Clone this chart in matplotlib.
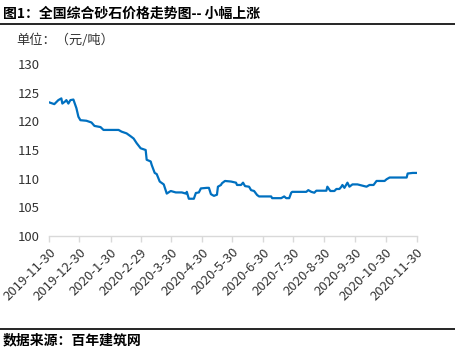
import matplotlib
matplotlib.use("Agg")
import matplotlib.pyplot as plt
import matplotlib.dates as mdates
import numpy as np
import pandas as pd

plt.rcParams['font.family'] = ['Noto Sans CJK SC', 'DejaVu Sans']

title = "图1：全国综合砂石价格走势图-- 小幅上涨"
unit_label = "单位：（元/吨）"
source = "数据来源：百年建筑网"

start_date = "2019-11-30"
day_offsets = [0, 5, 9, 12, 13, 16, 17, 19, 21, 24, 27, 29, 31, 37, 42, 45, 51, 54, 69, 72,
               77, 81, 84, 87, 91, 96, 97, 101, 102, 105, 107, 110, 114, 117, 121, 126, 132,
               136, 137, 139, 144, 146, 149, 151, 157, 159, 161, 164, 167, 168, 171, 172, 175,
               181, 186, 187, 191, 193, 195, 199, 201, 204, 207, 209, 221, 222, 231, 234, 236,
               239, 241, 242, 256, 258, 261, 264, 266, 276, 277, 280, 284, 286, 289, 291, 292,
               294, 297, 299, 302, 307, 316, 319, 323, 326, 334, 336, 339, 356, 357, 362, 366]
prices = [123.3, 123.0, 123.7, 124.0, 123.1, 123.5, 123.7, 123.1, 123.7, 123.8, 122.3, 120.8,
          120.2, 120.1, 119.8, 119.2, 119.0, 118.5, 118.5, 118.2, 117.9, 117.4, 117.0, 116.2,
          115.3, 115.0, 113.3, 113.0, 112.4, 111.0, 110.8, 109.5, 109.0, 107.4, 107.85, 107.6,
          107.6, 107.4, 107.7, 106.5, 106.5, 107.5, 107.6, 108.3, 108.4, 108.4, 107.3, 107.0,
          107.2, 108.6, 108.9, 109.2, 109.6, 109.5, 109.3, 108.9, 108.9, 109.3, 108.7, 108.6,
          108.0, 107.85, 107.15, 106.9, 106.9, 106.6, 106.6, 106.9, 106.6, 106.6, 107.55, 107.7,
          107.7, 108.0, 107.7, 107.55, 107.9, 107.9, 108.6, 107.85, 107.85, 108.2, 108.2, 108.6,
          108.9, 108.4, 109.3, 108.6, 109.0, 109.0, 108.6, 108.9, 108.9, 109.6, 109.6, 109.9,
          110.2, 110.2, 110.9, 111.0, 111.0]
tick_labels = ["2019-11-30", "2019-12-30", "2020-1-30", "2020-2-29", "2020-3-30", "2020-4-30",
               "2020-5-30", "2020-6-30", "2020-7-30", "2020-8-30", "2020-9-30", "2020-10-30",
               "2020-11-30"]
y_ticks = [100, 105, 110, 115, 120, 125, 130]

dates = pd.Timestamp(start_date) + pd.to_timedelta(day_offsets, unit="D")
tick_dates = pd.to_datetime(tick_labels)

W, H = 456, 351
fig = plt.figure(figsize=(W / 100, H / 100), dpi=100)
ax = fig.add_axes([49.3 / W, 1 - 236 / H, (416.7 - 49.3) / W, (236 - 64) / H])

ax.plot(dates, prices, color="#0070C0", lw=1.6, solid_joinstyle="round")
ax.set_ylim(100, 130)
ax.set_xlim(tick_dates[0], tick_dates[-1])
ax.set_yticks(y_ticks)
ax.set_xticks(tick_dates)
ax.set_xticklabels(tick_labels, rotation=45, ha="right", rotation_mode="anchor")
for s in ["left", "right", "top"]:
    ax.spines[s].set_visible(False)
ax.spines["bottom"].set_color("#d9d9d9")
ax.spines["bottom"].set_linewidth(1.0)
ax.tick_params(axis="y", length=0, pad=7, labelsize=9.5, labelcolor="#333333")
ax.tick_params(axis="x", length=4, color="#d9d9d9", width=1.0, pad=3, labelsize=9.5,
               labelcolor="#333333")

fig.text(3 / W, 1 - 14 / H, title, fontsize=10, fontweight="bold", va="center", ha="left")
fig.add_artist(plt.Line2D([0, 1], [1 - 24 / H, 1 - 24 / H], color="black", lw=1.2))
fig.text(16 / W, 1 - 40 / H, unit_label, fontsize=9.5, va="center", ha="left", color="#333333")
fig.add_artist(plt.Line2D([0, 1], [1 - 329 / H, 1 - 329 / H], color="black", lw=1.2))
fig.text(3 / W, 1 - 340 / H, source, fontsize=10, fontweight="bold", va="center", ha="left")

fig.savefig("out.png", dpi=100)
